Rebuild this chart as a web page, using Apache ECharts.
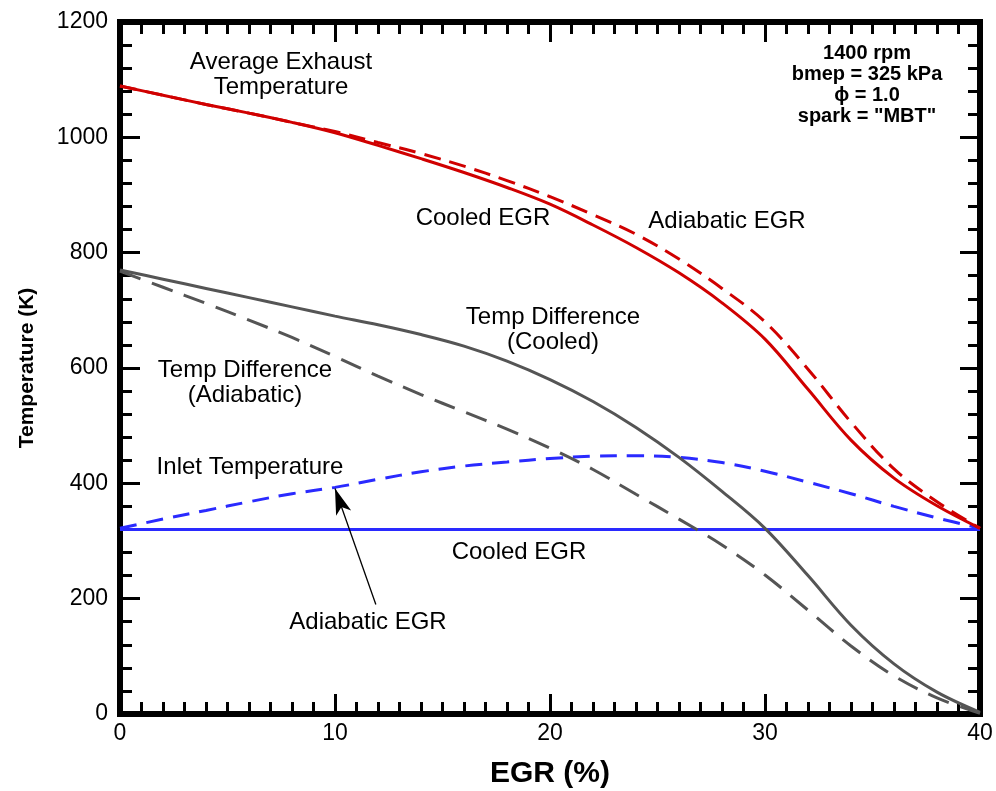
<!DOCTYPE html>
<html>
<head>
<meta charset="utf-8">
<script src="https://cdn.jsdelivr.net/npm/echarts@6/dist/echarts.min.js"></script>
<style>
  html, body { margin: 0; padding: 0; background: #fff; }
  #chart { width: 996px; height: 791px; }
</style>
</head>
<body>
<div id="chart"></div>
<script>
// EGR rate (%) at which each curve is sampled
const egr = [0, 2, 4, 6, 8, 10, 12, 14, 16, 18, 20, 22, 24, 26, 28, 30, 32, 34, 36, 38, 40];

// Average exhaust temperature (K)
const exhaustCooled    = [1089, 1073, 1057, 1042, 1026, 1008, 986, 963, 939, 913, 884, 848, 809, 765, 713, 650, 563, 475, 409, 361, 322];
const exhaustAdiabatic = [1089, 1073, 1057, 1042, 1026, 1010, 991, 972, 950, 925, 897, 866, 832, 789, 738, 680, 598, 506, 425, 368, 322];

// Exhaust minus inlet temperature (K)
const diffCooled    = [770, 754, 738, 722, 706, 690, 675, 658, 638, 612, 580, 542, 497, 445, 386, 322, 240, 154, 87, 38, 3];
const diffAdiabatic = [768, 740, 712, 683, 653, 620, 586, 554, 524, 494, 461, 424, 381, 338, 293, 241, 180, 118, 66, 28, 1];

// Inlet temperature (K)
const inletCooled    = [320, 320, 320, 320, 320, 320, 320, 320, 320, 320, 320, 320, 320, 320, 320, 320, 320, 320, 320, 320, 320];
const inletAdiabatic = [322, 338, 353, 368, 382, 393, 407, 420, 430, 437, 443, 447, 448, 445, 436, 421, 402, 382, 360, 340, 322];

// Leader arrow from the "Adiabatic EGR" label to the inlet curve
const arrowFrom = [11.9, 190];
const arrowTo   = [10, 391];

const xTicks = { min: 0, max: 40, interval: 10 };
const yTicks = { min: 0, max: 1200, interval: 200 };

const pair = (ys) => egr.map((x, i) => [x, ys[i]]);

const RED = '#d00000', GRAY = '#555555', BLUE = '#2a2aff';
const FONT = '"Liberation Sans", Arial, sans-serif';
const SMOOTH = 0.35;

function axisCommon(extra) {
  return Object.assign({
    type: 'value',
    axisLine: { show: true, onZero: false, lineStyle: { color: '#000', width: 6, cap: 'square' } },
    axisTick: { show: true, inside: true, length: 20, lineStyle: { color: '#000', width: 3 } },
    splitLine: { show: false },
    minorSplitLine: { show: false }
  }, extra);
}

const minorX = { show: true, splitNumber: 10, length: 12, lineStyle: { color: '#000', width: 3 } };
const minorY = { show: true, splitNumber: 5, length: 12, lineStyle: { color: '#000', width: 3 } };
const labelStyle = { color: '#000', fontFamily: FONT, fontSize: 23, formatter: (v) => String(v) };

const option = {
  animation: false,
  backgroundColor: '#fff',
  grid: { left: 120, right: 16, top: 22, bottom: 77, containLabel: false, outerBoundsMode: 'none' },
  xAxis: [
    axisCommon({
      position: 'bottom', min: xTicks.min, max: xTicks.max, interval: xTicks.interval,
      minorTick: minorX,
      axisLabel: Object.assign({ margin: 8 }, labelStyle),
      name: 'EGR (%)', nameLocation: 'middle', nameGap: 45,
      nameTextStyle: { color: '#000', fontFamily: FONT, fontSize: 30, fontWeight: 'bold' }
    }),
    axisCommon({
      position: 'top', min: xTicks.min, max: xTicks.max, interval: xTicks.interval,
      minorTick: minorX, axisLabel: { show: false }
    })
  ],
  yAxis: [
    axisCommon({
      position: 'left', min: yTicks.min, max: yTicks.max, interval: yTicks.interval,
      minorTick: minorY,
      axisLabel: Object.assign({ margin: 12 }, labelStyle),
      name: 'Temperature (K)', nameLocation: 'middle', nameGap: 82, nameRotate: 90,
      nameTextStyle: { color: '#000', fontFamily: FONT, fontSize: 21, fontWeight: 'bold' }
    }),
    axisCommon({
      position: 'right', min: yTicks.min, max: yTicks.max, interval: yTicks.interval,
      minorTick: minorY, axisLabel: { show: false }
    })
  ],
  series: [
    {
      name: 'Inlet Cooled', type: 'line', data: pair(inletCooled), showSymbol: false,
      lineStyle: { color: BLUE, width: 3 }
    },
    {
      name: 'Inlet Adiabatic', type: 'line', data: pair(inletAdiabatic), showSymbol: false, smooth: SMOOTH,
      lineStyle: { color: BLUE, width: 3, type: [17, 10] },
      markLine: {
        silent: true, symbol: ['none', 'arrow'], symbolSize: [12, 26],
        label: { show: false },
        lineStyle: { color: '#000', width: 1.3, type: 'solid' },
        data: [[{ coord: arrowFrom }, { coord: arrowTo }]]
      }
    },
    {
      name: 'Diff Adiabatic', type: 'line', data: pair(diffAdiabatic), showSymbol: false, smooth: SMOOTH,
      lineStyle: { color: GRAY, width: 3, type: [22, 12] }
    },
    {
      name: 'Diff Cooled', type: 'line', data: pair(diffCooled), showSymbol: false, smooth: SMOOTH,
      lineStyle: { color: GRAY, width: 3 }
    },
    {
      name: 'Exhaust Adiabatic', type: 'line', data: pair(exhaustAdiabatic), showSymbol: false, smooth: SMOOTH,
      lineStyle: { color: RED, width: 3, type: [17, 9] }
    },
    {
      name: 'Exhaust Cooled', type: 'line', data: pair(exhaustCooled), showSymbol: false, smooth: SMOOTH,
      lineStyle: { color: RED, width: 3 }
    }
  ],
  graphic: [
    ...[
      ['Average Exhaust\nTemperature', 281, 50],
      ['Cooled EGR', 483, 206],
      ['Adiabatic EGR', 727, 209],
      ['Temp Difference\n(Cooled)', 553, 305],
      ['Temp Difference\n(Adiabatic)', 245, 358],
      ['Inlet Temperature', 250, 455],
      ['Cooled EGR', 519, 540],
      ['Adiabatic EGR', 368, 610]
    ].map(([t, x, y]) => ({
      type: 'text', x: x, y: y, z: 100,
      style: { text: t, fill: '#000', font: '24px ' + FONT, align: 'center', verticalAlign: 'top', lineHeight: 25 }
    })),
    {
      type: 'text', x: 867, y: 43, z: 100,
      style: {
        text: '1400 rpm\nbmep = 325 kPa\n\u03D5 = 1.0\nspark = "MBT"',
        fill: '#000', font: 'bold 20px ' + FONT, align: 'center', verticalAlign: 'top', lineHeight: 21
      }
    }
  ]
};

const chart = echarts.init(document.getElementById('chart'), null, { renderer: 'canvas' });
chart.setOption(option);
</script>
</body>
</html>
